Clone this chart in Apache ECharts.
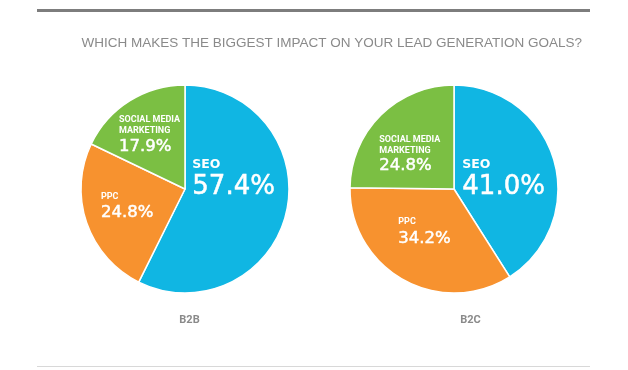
<!DOCTYPE html>
<html><head><meta charset="utf-8">
<script src="https://cdn.jsdelivr.net/npm/echarts@6/dist/echarts.min.js"></script>
<style>html,body{margin:0;padding:0;background:#fff}#c{width:628px;height:370px}</style>
</head><body><div id="c"></div>
<script>
// ---- data ----
var titleText = 'WHICH MAKES THE BIGGEST IMPACT ON YOUR LEAD GENERATION GOALS?';
var groups = ['B2B', 'B2C'];
var categories = ['SEO', 'PPC', 'SOCIAL MEDIA\nMARKETING'];
var b2bValues = [57.4, 24.8, 17.9];
var b2cValues = [41.0, 34.2, 24.8];
var colors = ['#10B6E3', '#F7922F', '#7BBF43'];

// ---- layout (not data) ----
var centers = [[185, 189], [454, 189]];
var R = 104;
// label top-left offsets relative to pie centre, per slice
var labelOffsets = [
  [[7.3, -32.5], [-84, 3.2], [-66, -74.5]],
  [[8.3, -32.5], [-55.7, 28.2], [-74.7, -54.7]]
];
// line heights [name line, value line] per chart per slice
var lineHeights = [
  [[16, 30], [10, 21.6], [10.6, 21.4]],
  [[16, 30], [10, 23.2], [11, 18.4]]
];
var nameFonts = [12.5, 9, 9];
var nameFamilies = ['"DejaVu Sans", sans-serif', 'Roboto, sans-serif', 'Roboto, sans-serif'];
var valFonts = [26, 16.5, 16.5];
var VF = '"DejaVu Sans", Roboto, sans-serif';

var chart = echarts.init(document.getElementById('c'), null, {renderer: 'canvas'});

function makeSeries(idx, values) {
  var rich = {};
  for (var i = 0; i < 3; i++) {
    rich['n' + i] = {fontFamily: nameFamilies[i], fontSize: nameFonts[i], fontWeight: 'bold', color: '#fff', lineHeight: lineHeights[idx][i][0], align: 'left'};
    rich['v' + i] = {fontFamily: VF, fontSize: valFonts[i], fontWeight: 'normal', color: '#fff', textBorderColor: '#fff', textBorderWidth: 0.5, lineHeight: lineHeights[idx][i][1], align: 'left'};
  }
  return {
    type: 'pie',
    center: centers[idx],
    radius: R,
    startAngle: 90,
    clockwise: true,
    avoidLabelOverlap: false,
    silent: true,
    animation: false,
    itemStyle: {borderColor: '#fff', borderWidth: 1.5},
    label: {
      show: true,
      position: 'inside',
      formatter: function (p) {
        var i = p.dataIndex;
        return '{n' + i + '|' + p.name.split('\n').join('}\n{n' + i + '|') + '}\n{v' + i + '|' + p.value.toFixed(1) + '%}';
      },
      rich: rich
    },
    labelLine: {show: false},
    labelLayout: function (p) {
      var o = labelOffsets[idx][p.dataIndex];
      return {x: centers[idx][0] + o[0], y: centers[idx][1] + o[1], align: 'left', verticalAlign: 'top'};
    },
    data: categories.map(function (c, i) {
      return {name: c, value: values[i], itemStyle: {color: colors[i]}};
    })
  };
}

var subStyle = {fontFamily: 'Roboto, sans-serif', fontSize: 11, fontWeight: 'bold', color: '#8a8a8a'};
chart.setOption({
  backgroundColor: '#fff',
  animation: false,
  title: [
    {text: titleText, right: 41, top: 31, textStyle: {fontFamily: '"Liberation Sans", Arial, sans-serif', fontSize: 13.5, fontWeight: 'normal', color: '#8a8a8a'}},
    {text: groups[0], left: 184.5, top: 310, textAlign: 'center', textStyle: subStyle},
    {text: groups[1], left: 465.5, top: 310, textAlign: 'center', textStyle: subStyle}
  ],
  graphic: [
    {type: 'rect', shape: {x: 37, y: 9, width: 553, height: 3}, style: {fill: '#7d7d7d'}, silent: true},
    {type: 'rect', shape: {x: 37, y: 366, width: 553, height: 1}, style: {fill: '#d8d8d8'}, silent: true}
  ],
  series: [makeSeries(0, b2bValues), makeSeries(1, b2cValues)]
});
</script>
</body></html>
